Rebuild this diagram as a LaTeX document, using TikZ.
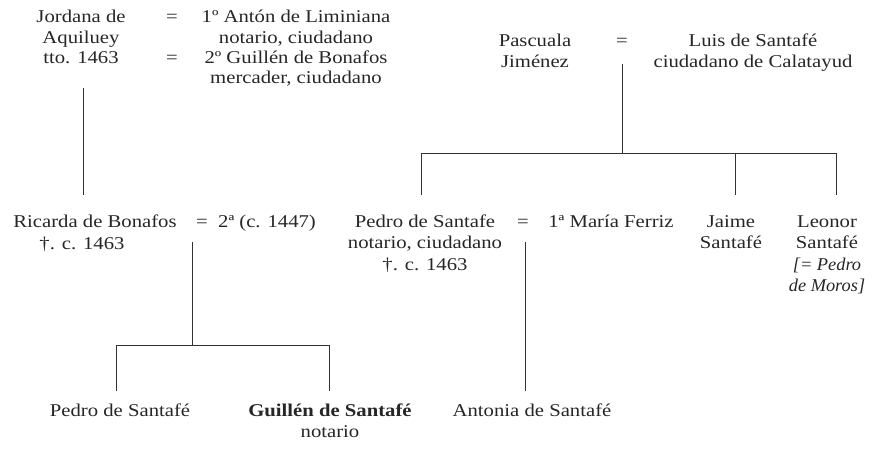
\documentclass[tikz,border=0pt]{standalone}
\usepackage{fontspec}
\setmainfont{Liberation Serif}[FakeStretch=1.15]
\newfontfamily\narrowit{Liberation Serif}[FakeStretch=1.02]
\begin{document}
\begin{tikzpicture}[x=1pt,y=-1pt,
  txt/.style={anchor=base,inner sep=0pt,align=center,font=\fontsize{18}{21.5}\selectfont,text=black!85},
  toptxt/.style={txt,font=\fontsize{18}{20.3}\selectfont},
  ln/.style={draw=black!80,line width=0.9pt}]
\useasboundingbox (0,0) rectangle (874,462);
% (multi-line nodes: base anchor = baseline of their last line)
% top left block
\node[toptxt] (jordana) at (81,63.6) {Jordana de\\Aquiluey\\tto. 1463};
\node[toptxt] (eqa) at (172,23) {=};
\node[toptxt] (eqb) at (172,63.6) {=};
\node[toptxt] (anton) at (296,83.9) {1º Antón de Liminiana\\notario, ciudadano\\2º Guillén de Bonafos\\mercader, ciudadano};
% top right block
\node[toptxt] (pascuala) at (535,67.3) {Pascuala\\Jiménez};
\node[toptxt] (eqc) at (622,47) {=};
\node[toptxt] (luis) at (753,67.3) {Luis de Santafé\\ciudadano de Calatayud};
% second row
\node[txt] (ricarda) at (95,227) {Ricarda de Bonafos};
\node[txt] (ricardad) at (82,249) {†. c. 1463};
\node[txt] (eqd) at (202,227) {=};
\node[txt] (segunda) at (267,227) {2ª (c. 1447)};
\node[txt] (pedro) at (425,270) {Pedro de Santafe\\notario, ciudadano\\†. c. 1463};
\node[txt] (eqe) at (523,227) {=};
\node[txt] (maria) at (611,227) {1ª María Ferriz};
\node[txt] (jaime) at (731,248.5) {Jaime\\Santafé};
\node[txt] (leonor) at (827,291.5) {Leonor\\Santafé\\{\narrowit\itshape [= Pedro}\\{\narrowit\itshape de Moros]}};
% third row
\node[txt] (pedrob) at (120,416) {Pedro de Santafé};
\node[txt] (guillen) at (330,437.5) {\textbf{Guillén de Santafé}\\notario};
\node[txt] (antonia) at (532,416) {Antonia de Santafé};
% coordinates
\coordinate (ja) at (83,88);
\coordinate (jb) at (83,195);
\coordinate (pa) at (622,64);
\coordinate (pb) at (622,153);
\coordinate (pl) at (421,153);
\coordinate (pld) at (421,195);
\coordinate (pm) at (735,153);
\coordinate (pmd) at (735,195);
\coordinate (pr) at (836,153);
\coordinate (prd) at (836,195);
\coordinate (ra) at (192,242);
\coordinate (rb) at (192,345);
\coordinate (rl) at (116,345);
\coordinate (rld) at (116,391);
\coordinate (rr) at (329,345);
\coordinate (rrd) at (329,391);
\coordinate (ma) at (525,242);
\coordinate (mb) at (525,391);
% connectors
\draw[ln] (ja) -- (jb);
\draw[ln] (pa) -- (pb);
\draw[ln] (pld) -- (pl) -- (pr) -- (prd);
\draw[ln] (pm) -- (pmd);
\draw[ln] (ra) -- (rb);
\draw[ln] (rld) -- (rl) -- (rr) -- (rrd);
\draw[ln] (ma) -- (mb);
\end{tikzpicture}
\end{document}
